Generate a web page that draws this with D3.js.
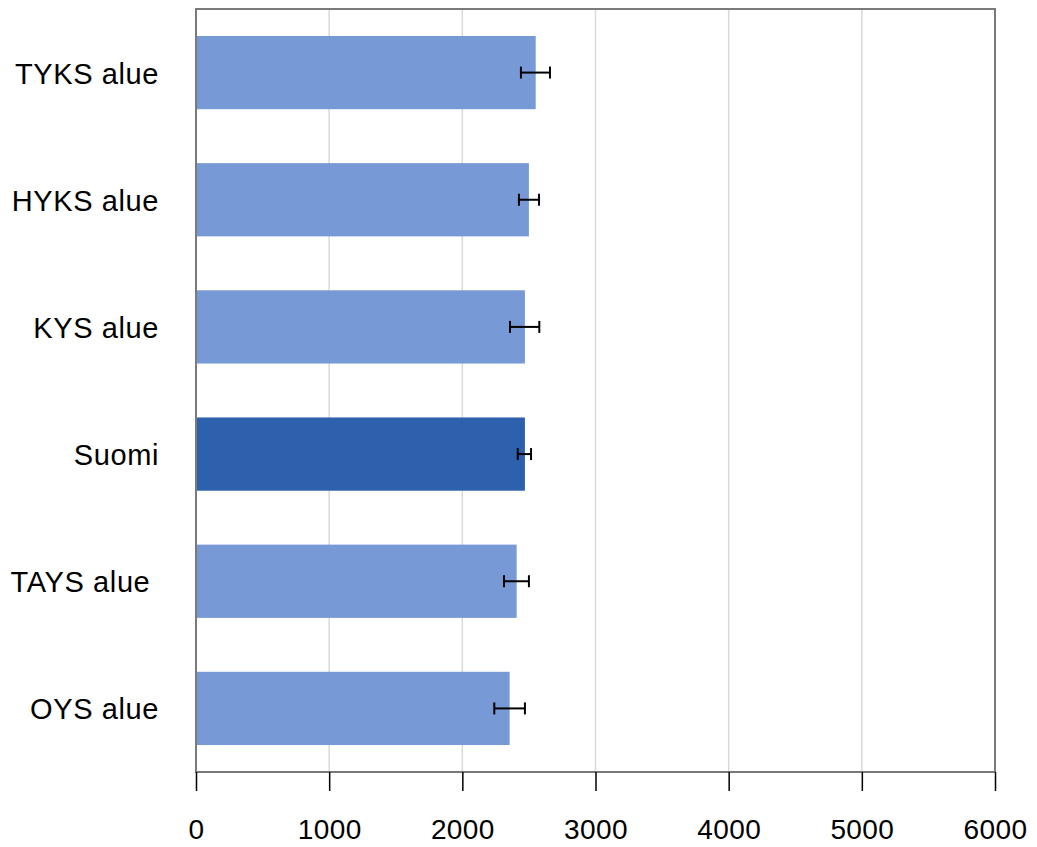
<!DOCTYPE html>
<html>
<head>
<meta charset="utf-8">
<script src="https://cdn.jsdelivr.net/npm/d3@7"></script>
<style>
  html, body { margin: 0; padding: 0; background: #fff; }
  svg text { font-family: "Liberation Sans", Arial, sans-serif; white-space: pre; }
</style>
</head>
<body>
<svg id="chart" width="1037" height="847"></svg>
<script>
const categories = ["TYKS alue", "HYKS alue", "KYS alue", "Suomi", "TAYS alue ", "OYS alue"];
const values     = [2551, 2500, 2470, 2470, 2408, 2355];
const errLow     = [2440, 2425, 2358, 2416, 2313, 2240];
const errHigh    = [2658, 2576, 2578, 2516, 2500, 2470];
const highlight  = [false, false, false, true, false, false];
const xTicks     = [0, 1000, 2000, 3000, 4000, 5000, 6000];

const svg = d3.select("#chart");
const plotL = 196, plotR = 995, plotT = 9, plotB = 772;

const x = d3.scaleLinear().domain([0, 6000]).range([plotL, plotR]);
const y = d3.scaleBand().domain(categories).range([plotT, plotB]).paddingInner(0.424).paddingOuter(0.212);

// gridlines
svg.append("g").selectAll("line").data(xTicks.slice(1, -1)).join("line")
  .attr("x1", d => x(d)).attr("x2", d => x(d))
  .attr("y1", plotT).attr("y2", plotB)
  .attr("stroke", "#d9d9d9").attr("stroke-width", 1.5);

// bars
svg.append("g").selectAll("rect").data(categories).join("rect")
  .attr("x", x(0))
  .attr("y", d => y(d))
  .attr("height", y.bandwidth())
  .attr("width", (d, i) => x(values[i]) - x(0))
  .attr("fill", (d, i) => highlight[i] ? "#2E61AD" : "#7799D6");

// error bars
const eb = svg.append("g").attr("stroke", "#000").attr("stroke-width", 2);
categories.forEach((c, i) => {
  const cy = y(c) + y.bandwidth() / 2;
  eb.append("line").attr("x1", x(errLow[i])).attr("x2", x(errHigh[i])).attr("y1", cy).attr("y2", cy);
  eb.append("line").attr("x1", x(errLow[i])).attr("x2", x(errLow[i])).attr("y1", cy - 6).attr("y2", cy + 6);
  eb.append("line").attr("x1", x(errHigh[i])).attr("x2", x(errHigh[i])).attr("y1", cy - 6).attr("y2", cy + 6);
});

// plot box
svg.append("rect").attr("x", plotL).attr("y", plotT).attr("width", plotR - plotL).attr("height", plotB - plotT)
  .attr("fill", "none").attr("stroke", "#7a7a7a").attr("stroke-width", 2);

// x axis
const xAxis = d3.axisBottom(x).tickValues(xTicks).tickSize(19).tickPadding(28).tickFormat(d3.format("d"));
const gx = svg.append("g").attr("transform", `translate(0,${plotB})`).call(xAxis);
gx.select(".domain").remove();
gx.selectAll(".tick line").attr("stroke", "#000").attr("stroke-width", 1.5);
gx.selectAll(".tick text").attr("font-size", 28).attr("fill", "#000")
  .style("font-family", '"Liberation Sans", Arial, sans-serif')
  .style("letter-spacing", "0.4px");

// y labels
const yAxis = d3.axisLeft(y).tickSize(0).tickPadding(0);
const gy = svg.append("g").attr("transform", `translate(159,0)`).call(yAxis);
gy.select(".domain").remove();
gy.selectAll(".tick text").attr("font-size", 29).attr("fill", "#000").attr("dy", "0.38em")
  .style("font-family", '"Liberation Sans", Arial, sans-serif')
  .style("letter-spacing", "0.6px");
</script>
</body>
</html>
